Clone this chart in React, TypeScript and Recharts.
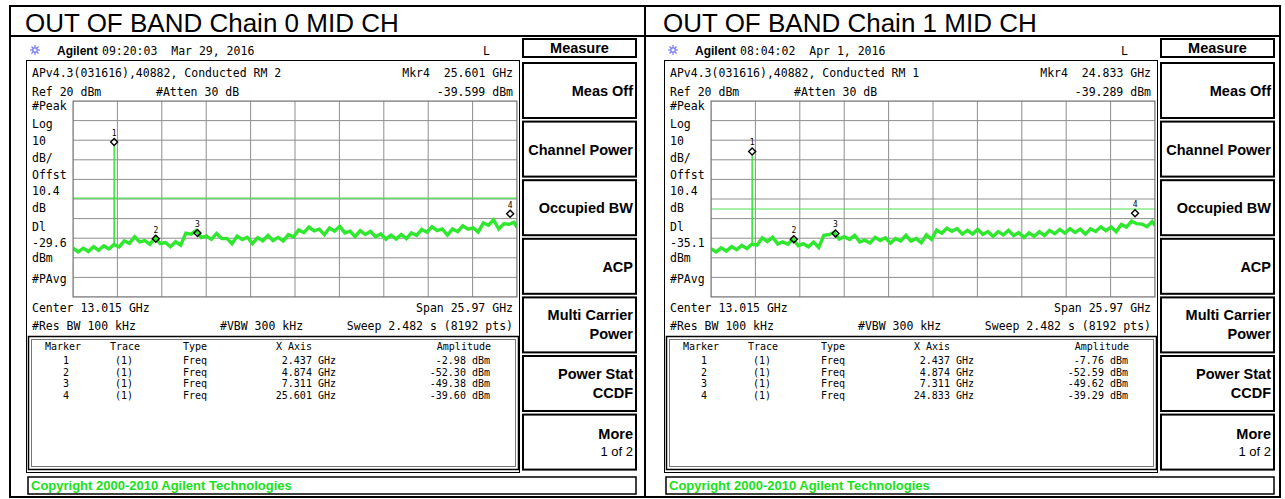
import React from 'react'
import {
  ComposedChart,
  Line,
  Scatter,
  XAxis,
  YAxis,
  CartesianGrid,
  ReferenceLine
} from 'recharts'

const MONO = '"DejaVu Sans Mono", monospace'
const SANS = '"Liberation Sans", Arial, sans-serif'
const TRACE_GREEN = '#2ee82e'
const LINE_GREEN = '#4fdf4f'
const GRID_GRAY = '#8e8e8e'

// sweep: center 13.015 GHz, span 25.97 GHz
const START_GHZ = 0.03
const STOP_GHZ = 26.0
const sweepGHz = [
  ...Array.from({ length: 87 }, (_, i) => Math.round((START_GHZ + i * 0.3) * 100) / 100),
  STOP_GHZ
]
const xGrid = Array.from({ length: 11 }, (_, i) => START_GHZ + (i * (STOP_GHZ - START_GHZ)) / 10)
const yGrid = [-80, -70, -60, -50, -40, -30, -20, -10, 0, 10, 20]

// trace levels (dBm)
const chain0Dbm = [
  -55.0, -57.0, -55.1, -56.8, -54.3, -56.2, -53.9, -55.5, -53.2, -54.4,
  -51.4, -52.6, -49.3, -51.9, -51.2, -53.1, -49.6, -52.8, -52.2, -54.3,
  -51.8, -53.6, -47.4, -47.9, -46.1, -49.7, -48.9, -50.6, -47.6, -50.2,
  -50.1, -52.8, -48.9, -50.7, -49.5, -52.7, -49.7, -51.3, -48.6, -51.2,
  -49.6, -51.4, -48.2, -49.3, -45.8, -47.2, -44.3, -46.3, -45.4, -48.2,
  -44.8, -46.4, -43.9, -47.3, -46.4, -49.2, -46.1, -48.1, -46.5, -49.3,
  -47.8, -50.5, -48.4, -50.4, -48.1, -50.2, -47.3, -48.6, -45.5, -46.9,
  -44.2, -46.1, -45.3, -48.4, -45.3, -46.7, -43.7, -45.4, -44.7, -46.9,
  -42.2, -43.4, -40.6, -45.3, -42.6, -42.9, -41.9, -44.5
]
const chain1Dbm = [
  -55.4, -57.0, -54.9, -56.6, -54.3, -55.9, -53.6, -55.3, -53.0, -53.5,
  -49.8, -51.7, -49.5, -52.9, -51.9, -53.1, -50.3, -53.8, -52.8, -54.4,
  -52.0, -54.7, -48.5, -48.2, -47.0, -50.5, -49.2, -50.6, -48.6, -51.9,
  -51.0, -52.4, -49.6, -51.2, -49.8, -52.5, -50.2, -51.4, -48.5, -51.5,
  -50.2, -52.3, -48.3, -50.6, -45.9, -47.4, -44.9, -46.5, -45.1, -47.9,
  -46.0, -47.9, -45.5, -48.1, -46.6, -49.1, -46.6, -48.3, -46.0, -48.7,
  -47.1, -49.6, -47.3, -49.1, -46.7, -48.6, -46.0, -47.7, -45.5, -47.4,
  -45.1, -47.1, -45.4, -47.9, -45.2, -46.6, -44.2, -46.1, -44.3, -46.7,
  -43.0, -44.3, -41.3, -42.6, -42.8, -44.1, -41.5, -43.5
]

// carrier spike at 2.437 GHz
const spike0 = [
  { f: 2.431, dbm: -53.6 },
  { f: 2.437, dbm: -2.98 },
  { f: 2.443, dbm: -53.4 }
]
const spike1 = [
  { f: 2.431, dbm: -53.3 },
  { f: 2.437, dbm: -7.76 },
  { f: 2.443, dbm: -53.1 }
]

const markers0 = [
  { n: 1, f: 2.437, dbm: -2.98 },
  { n: 2, f: 4.874, dbm: -52.3 },
  { n: 3, f: 7.311, dbm: -49.38 },
  { n: 4, f: 25.601, dbm: -39.6 }
]
const markers1 = [
  { n: 1, f: 2.437, dbm: -7.76 },
  { n: 2, f: 4.874, dbm: -52.59 },
  { n: 3, f: 7.311, dbm: -49.62 },
  { n: 4, f: 24.833, dbm: -39.29 }
]

const panelTitles = ['OUT OF BAND Chain 0 MID CH', 'OUT OF BAND Chain 1 MID CH']
const stamps = ['09:20:03  Mar 29, 2016', '08:04:02  Apr 1, 2016']
const screenTitles = ['APv4.3(031616),40882, Conducted RM 2', 'APv4.3(031616),40882, Conducted RM 1']
const mkrFreqText = ['Mkr4  25.601 GHz', 'Mkr4  24.833 GHz']
const mkrAmpText = ['-39.599 dBm', '-39.289 dBm']
const displayLineDbm = [-29.6, -35.1]
const softkeys = [
  ['Meas Off'],
  ['Channel Power'],
  ['Occupied BW'],
  ['ACP'],
  ['Multi Carrier', 'Power'],
  ['Power Stat', 'CCDF']
]

const panels = [
  { dx: 0, levels: chain0Dbm, spike: spike0, markers: markers0 },
  { dx: 638, levels: chain1Dbm, spike: spike1, markers: markers1 }
]

const GRID_X = 73
const GRID_Y = 101
const GRID_W = 444
const GRID_H = 196

// 10 x 10 graticule, placed from the plot offset
const divs = Array.from({ length: 11 }, (_, i) => i / 10)
const vGrid = ({ offset }: any) => divs.map((t) => offset.left + t * offset.width)
const hGrid = ({ offset }: any) => divs.map((t) => offset.top + t * offset.height)

function MarkerShape(props: any) {
  const { cx, cy, payload } = props
  const c = cy - 4
  return (
    <g>
      <path
        d={`M${cx},${c - 3.5} L${cx + 3.5},${c} L${cx},${c + 3.5} L${cx - 3.5},${c} Z`}
        fill="none"
        stroke="#000"
        strokeWidth={1.4}
      />
      <text x={cx} y={c - 6} textAnchor="middle" fontFamily={MONO} fontSize={8} fill="#000">
        {payload.n}
      </text>
    </g>
  )
}

function Trace({ idx }: { idx: number }) {
  const p = panels[idx]
  const trace = sweepGHz.map((f, i) => ({ f, dbm: p.levels[i] }))
  return (
    <div
      style={{
        position: 'absolute',
        left: GRID_X + p.dx,
        top: GRID_Y,
        width: GRID_W,
        height: GRID_H
      }}
    >
      <ComposedChart width={GRID_W} height={GRID_H} margin={{ top: 0, right: 0, bottom: 0, left: 0 }}>
        <CartesianGrid
          stroke={GRID_GRAY}
          strokeWidth={1}
          verticalCoordinatesGenerator={vGrid}
          horizontalCoordinatesGenerator={hGrid}
        />
        <XAxis
          type="number"
          dataKey="f"
          domain={[START_GHZ, STOP_GHZ]}
          ticks={xGrid}
          hide
          allowDataOverflow
        />
        <YAxis type="number" domain={[-80, 20]} ticks={yGrid} hide allowDataOverflow />
        <ReferenceLine y={displayLineDbm[idx]} stroke={LINE_GREEN} strokeWidth={1.2} />
        <Line
          data={trace}
          dataKey="dbm"
          stroke={TRACE_GREEN}
          strokeWidth={3.4}
          dot={false}
          isAnimationActive={false}
        />
        <Line
          data={p.spike}
          dataKey="dbm"
          stroke={TRACE_GREEN}
          strokeWidth={1.4}
          dot={false}
          isAnimationActive={false}
        />
        <Scatter data={p.markers} dataKey="dbm" shape={MarkerShape} isAnimationActive={false} />
      </ComposedChart>
    </div>
  )
}

const mono = { fontFamily: MONO, fontSize: 11.5, whiteSpace: 'pre' as const }
const small = { fontFamily: MONO, fontSize: 10, whiteSpace: 'pre' as const }
const key = { fontFamily: SANS, fontSize: 14.5, fontWeight: 'bold' as const }

function Spark({ x, y }: { x: number; y: number }) {
  const rays = [0, 45, 90, 135]
  return (
    <g stroke="#7a7af2" strokeWidth={1.2}>
      {rays.map((a) => {
        const r = (a * Math.PI) / 180
        return (
          <line
            key={a}
            x1={x - Math.cos(r) * 5}
            y1={y - Math.sin(r) * 5}
            x2={x + Math.cos(r) * 5}
            y2={y + Math.sin(r) * 5}
          />
        )
      })}
      <circle cx={x} cy={y} r={2.2} fill="#fff" />
    </g>
  )
}

function Panel({ idx }: { idx: number }) {
  const p = panels[idx]
  const dl = displayLineDbm[idx]
  const sideLabels: [string, number][] = [
    ['#Peak', 110],
    ['Log', 128],
    ['10', 145],
    ['dB/', 162],
    ['Offst', 179],
    ['10.4', 195],
    ['dB', 212],
    ['Dl', 231],
    [dl.toFixed(1), 247],
    ['dBm', 262],
    ['#PAvg', 283]
  ]
  const keyTop = (k: number) => 63 + k * 58.6
  return (
    <g transform={`translate(${p.dx},0)`}>
      <text x={25} y={31.5} fontFamily={SANS} fontSize={26} fill="#000">
        {panelTitles[idx]}
      </text>

      <Spark x={35} y={50} />
      <text x={57} y={55} fontFamily={SANS} fontSize={12} fontWeight="bold">
        Agilent
      </text>
      <text x={102} y={55} style={mono}>{stamps[idx]}</text>
      <text x={483} y={55} style={mono}>L</text>

      {/* instrument screen */}
      <rect x={26.5} y={60.5} width={493} height={412} fill="none" stroke="#000" strokeWidth={1} />
      <text x={32} y={77} style={mono}>{screenTitles[idx]}</text>
      <text x={513} y={77} textAnchor="end" style={mono}>{mkrFreqText[idx]}</text>
      <text x={32} y={96} style={mono}>Ref 20 dBm</text>
      <text x={156} y={96} style={mono}>#Atten 30 dB</text>
      <text x={513} y={96} textAnchor="end" style={mono}>{mkrAmpText[idx]}</text>
      {sideLabels.map(([t, y]) => (
        <text key={t + y} x={32} y={y} style={mono}>
          {t}
        </text>
      ))}
      <rect x={GRID_X} y={GRID_Y} width={GRID_W} height={GRID_H} fill="none" stroke="#6e6e6e" strokeWidth={1} />

      <text x={32} y={312} style={mono}>Center 13.015 GHz</text>
      <text x={513} y={312} textAnchor="end" style={mono}>Span 25.97 GHz</text>
      <text x={32} y={330} style={mono}>#Res BW 100 kHz</text>
      <text x={220} y={330} style={mono}>#VBW 300 kHz</text>
      <text x={513} y={330} textAnchor="end" style={mono}>Sweep 2.482 s (8192 pts)</text>

      {/* marker table */}
      <rect x={28.5} y={336.5} width={490} height={133} fill="none" stroke="#000" strokeWidth={1.5} />
      <rect x={31.5} y={339.5} width={484} height={127} fill="none" stroke="#777" strokeWidth={1} />
      <text x={45} y={350} style={small}>Marker</text>
      <text x={110} y={350} style={small}>Trace</text>
      <text x={183} y={350} style={small}>Type</text>
      <text x={312} y={350} textAnchor="end" style={small}>X Axis</text>
      <text x={491} y={350} textAnchor="end" style={small}>Amplitude</text>
      {p.markers.map((m, i) => {
        const y = 364 + i * 11.5
        return (
          <g key={m.n}>
            <text x={66} y={y} textAnchor="middle" style={small}>{m.n}</text>
            <text x={124} y={y} textAnchor="middle" style={small}>(1)</text>
            <text x={183} y={y} style={small}>Freq</text>
            <text x={336} y={y} textAnchor="end" style={small}>{m.f.toFixed(3)} GHz</text>
            <text x={490} y={y} textAnchor="end" style={small}>{m.dbm.toFixed(2)} dBm</text>
          </g>
        )
      })}

      {/* softkeys */}
      <rect x={523} y={39} width={113} height={18} fill="none" stroke="#000" strokeWidth={2} />
      <text x={579.5} y={53} textAnchor="middle" style={key}>Measure</text>
      {softkeys.map((lines, k) => {
        const top = keyTop(k)
        return (
          <g key={k}>
            <rect x={523} y={top} width={113} height={55} fill="none" stroke="#000" strokeWidth={2} />
            {lines.length === 1 ? (
              <text x={633} y={top + 33} textAnchor="end" style={key}>{lines[0]}</text>
            ) : (
              <>
                <text x={633} y={top + 23} textAnchor="end" style={key}>{lines[0]}</text>
                <text x={633} y={top + 42} textAnchor="end" style={key}>{lines[1]}</text>
              </>
            )}
          </g>
        )
      })}
      <rect x={523} y={keyTop(6)} width={113} height={55} fill="none" stroke="#000" strokeWidth={2} />
      <text x={633} y={keyTop(6) + 24} textAnchor="end" style={key}>More</text>
      <text x={633} y={keyTop(6) + 41} textAnchor="end" fontFamily={SANS} fontSize={13}>1 of 2</text>

      {/* copyright bar */}
      <rect x={28} y={477} width={608} height={17} fill="none" stroke="#000" strokeWidth={1.5} />
      <text x={31} y={490} fontFamily={SANS} fontSize={13} fontWeight="bold" fill="#19e019">
        Copyright 2000-2010 Agilent Technologies
      </text>
    </g>
  )
}

export default function App() {
  return (
    <div style={{ position: 'relative', width: 1285, height: 499, background: '#fff', overflow: 'hidden' }}>
      <style>{'body{margin:0}'}</style>
      <Trace idx={0} />
      <Trace idx={1} />
      <svg
        width={1285}
        height={499}
        style={{ position: 'absolute', left: 0, top: 0, pointerEvents: 'none' }}
      >
        {/* outer table */}
        <rect x={10} y={6} width={1270} height={491} fill="none" stroke="#000" strokeWidth={2} />
        <line x1={10} y1={36} x2={1280} y2={36} stroke="#000" strokeWidth={2} />
        <line x1={645} y1={6} x2={645} y2={497} stroke="#000" strokeWidth={2} />
        <Panel idx={0} />
        <Panel idx={1} />
      </svg>
    </div>
  )
}
